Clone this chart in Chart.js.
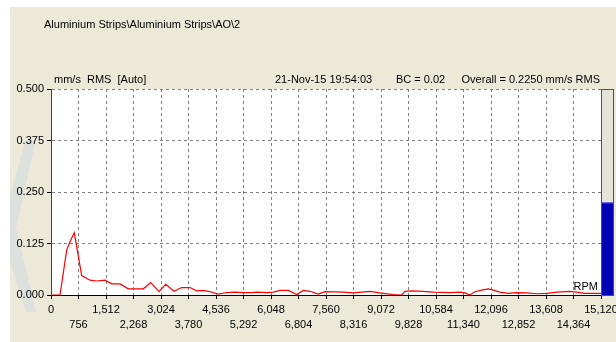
<!DOCTYPE html>
<html>
<head>
<meta charset="utf-8">
<script src="https://cdn.jsdelivr.net/npm/chart.js@4"></script>
<style>
  html, body { margin: 0; padding: 0; background: #fff; }
  #wrap { width: 616px; height: 342px; }
</style>
</head>
<body>
<div id="wrap"><canvas id="spectrum" width="616" height="342"></canvas></div>
<script>
// spectrum (RPM vs mm/s RMS)
var rpm = [0, 247, 431, 540, 641, 843, 1072, 1256, 1485, 1668, 1897, 2126, 2538, 2741,
  2969, 3153, 3381, 3592, 3821, 4004, 4187, 4325, 4600, 4830, 5059, 5287, 5517, 5654,
  5929, 6112, 6296, 6524, 6753, 6936, 7120, 7348, 7532, 8035, 8310, 8769, 9044, 9410,
  9640, 9731, 9915, 10234, 10509, 10967, 11242, 11380, 11517, 11655, 11839, 12020,
  12158, 12341, 12570, 12799, 13074, 13349, 13624, 13899, 14265, 14449, 14677, 15120];
var amplitude = [0, 0, 0.109, 0.133, 0.151, 0.047, 0.036, 0.034, 0.036, 0.027, 0.027, 0.015, 0.015, 0.030,
  0.008, 0.026, 0.009, 0.018, 0.018, 0.010, 0.011, 0.009, 0.002, 0.006, 0.007, 0.006, 0.006, 0.007,
  0.006, 0.007, 0.011, 0.011, 0.001, 0.011, 0.009, 0.002, 0.008, 0.007, 0.005, 0.009, 0.005, 0.001,
  0.000, 0.009, 0.010, 0.009, 0.007, 0.006, 0.007, 0.005, 0.000, 0.008, 0.012, 0.015,
  0.012, 0.007, 0.004, 0.006, 0.005, 0.003, 0.004, 0.007, 0.009, 0.007, 0.004, 0.004];
var overall = 0.2250;
var xMax = 15120, xStep = 756;
var yMax = 0.5, yStep = 0.125;

var title = 'Aluminium Strips\\Aluminium Strips\\AO\\2';
var unitsText = 'mm/s  RMS  [Auto]';
var dateText = '21-Nov-15 19:54:03';
var bcText = 'BC = 0.02';
var overallText = 'Overall = 0.2250 mm/s RMS';

var points = rpm.map(function (r, i) { return { x: r, y: amplitude[i] }; });
var uiFont = '11px "Liberation Sans", Arial, sans-serif';

// background, watermark, titles, overall gauge
var frame = {
  id: 'frame',
  beforeDraw: function (chart) {
    var c = chart.ctx, a = chart.chartArea;
    c.save();
    c.fillStyle = '#ffffff';
    c.fillRect(0, 0, chart.width, chart.height);
    c.fillStyle = '#ece9d8';
    c.fillRect(10, 7, chart.width - 10, chart.height - 7);
    // faint watermark on the left
    c.fillStyle = '#dde1de';
    c.beginPath();
    c.moveTo(26, 140); c.lineTo(36, 140); c.lineTo(16, 228); c.lineTo(36, 312);
    c.lineTo(26, 312); c.lineTo(10, 262); c.lineTo(10, 196);
    c.closePath(); c.fill();
    c.fillStyle = '#ffffff';
    c.fillRect(a.left, a.top, a.right - a.left, a.bottom - a.top);
    c.restore();
  },
  afterDraw: function (chart) {
    var c = chart.ctx, a = chart.chartArea, y = chart.scales.y;
    c.save();
    c.font = uiFont;
    c.fillStyle = '#000';
    c.textBaseline = 'middle';
    c.textAlign = 'left';
    c.fillText(title, 44, 25);
    c.fillText(unitsText, a.left + 3, 80);
    c.fillText(dateText, 275, 80);
    c.fillText(bcText, 396, 80);
    c.textAlign = 'right';
    c.fillText(overallText, 600, 80);
    c.fillText('RPM', a.right - 3, a.bottom - 8);
    // overall gauge
    var gx = a.right, gw = 12;
    var top = y.getPixelForValue(yMax), bot = y.getPixelForValue(0), lvl = y.getPixelForValue(overall);
    c.fillStyle = '#e6e3d9';
    c.fillRect(gx, top, gw, bot - top);
    c.fillStyle = '#0000b4';
    c.fillRect(gx, lvl, gw, bot - lvl);
    c.fillStyle = '#7f7fe0';
    c.fillRect(gx, lvl, gw, 1);
    c.strokeStyle = '#505050';
    c.lineWidth = 1;
    c.strokeRect(gx + 0.5, top + 0.5, gw, bot - top);
    c.restore();
  }
};

var ctx = document.getElementById('spectrum').getContext('2d');
var chart = new Chart(ctx, {
  type: 'line',
  data: {
    datasets: [{
      data: points,
      borderColor: '#ff0000',
      borderWidth: 1.2,
      pointRadius: 0,
      tension: 0,
      fill: false,
    }],
  },
  options: {
    responsive: false,
    animation: false,
    layout: { padding: { top: 89, right: 15, left: 0, bottom: 0 } },
    plugins: { legend: { display: false }, tooltip: { enabled: false } },
    scales: {
      x: {
        type: 'linear',
        min: 0,
        max: xMax,
        afterFit: function (s) { s.height = 47; s.paddingLeft = 0; s.paddingRight = 0; },
        afterBuildTicks: function (s) {
          s.ticks = [];
          for (var v = 0; v <= xMax; v += xStep) s.ticks.push({ value: v });
        },
        ticks: {
          autoSkip: false,
          maxRotation: 0,
          padding: 3,
          color: '#000',
          font: { family: '"Liberation Sans", Arial, sans-serif', size: 11, lineHeight: '15px' },
          callback: function (v, i) {
            var s = v.toLocaleString('en-US');
            return i % 2 ? ['', s] : s;
          },
        },
        grid: { color: '#808080', tickLength: 4, tickColor: '#000' },
        border: { color: '#000', dash: [3, 3] },
      },
      y: {
        min: 0,
        max: yMax,
        afterFit: function (s) { s.width = 51; s.paddingTop = 0; s.paddingBottom = 0; },
        ticks: {
          stepSize: yStep,
          padding: 3,
          color: '#000',
          font: { family: '"Liberation Sans", Arial, sans-serif', size: 11 },
          callback: function (v) { return v.toFixed(3); },
        },
        grid: { color: '#808080', tickLength: 4, tickColor: '#000' },
        border: { color: '#404040', dash: [3, 3] },
      },
    },
  },
  plugins: [frame],
});
</script>
</body>
</html>
